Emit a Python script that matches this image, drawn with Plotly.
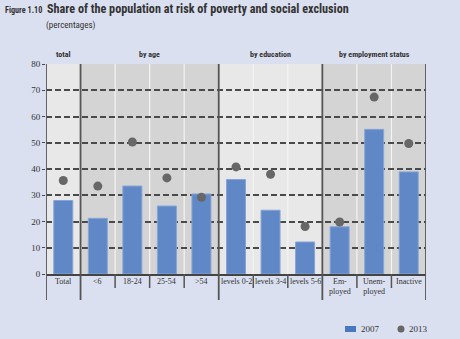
import plotly.graph_objects as go

categories = ["Total", "<6", "18-24", "25-54", ">54", "levels 0-2", "levels 3-4",
              "levels 5-6", "Em-<br>ployed", "Unem-<br>ployed", "Inactive"]
values_2007 = [28, 21.2, 33.5, 25.9, 30.5, 36, 24.3, 12.2, 18, 55.1, 38.9]
values_2013 = [35.6, 33.5, 50.3, 36.6, 29.2, 40.8, 38, 18.1, 19.8, 67.4, 49.7]
groups = ["total", "by age", "by education", "by employment status"]
group_sizes = [1, 4, 3, 3]
y_ticks = [0, 10, 20, 30, 40, 50, 60, 70, 80]
series_names = ["2007", "2013"]

BG = "#dae0f0"
LIGHT = "#e8e8e8"
DARK = "#d4d4d4"
BAR = "#6088c6"
DOT = "#676767"
TXT = "#333333"
COND = "Roboto Condensed, DejaVu Sans Condensed, sans-serif"
SERIF = "Liberation Serif, DejaVu Serif, serif"

L, R, T, B = 46, 426, 64, 274  # plot area in pixels


def px_x(p):
    return (p - L) / float(R - L)


def px_y(p):
    return (B - p) / float(B - T)


x = list(range(len(categories)))

fig = go.Figure()
fig.add_trace(go.Bar(x=x, y=values_2007, name=series_names[0], width=0.55,
                     marker=dict(color=BAR, line=dict(color="#86a5d6", width=1)),
                     showlegend=False))
fig.add_trace(go.Scatter(x=x, y=values_2013, mode="markers", name=series_names[1],
                         marker=dict(color=DOT, size=9), showlegend=False))

shapes = []
annotations = []
start = 0
shades = [LIGHT, DARK, LIGHT, DARK]
for gi, (g, n) in enumerate(zip(groups, group_sizes)):
    x0 = start - 0.5
    x1 = start + n - 0.5
    shapes.append(dict(type="rect", xref="x", yref="y", x0=x0, x1=x1, y0=0, y1=80,
                       fillcolor=shades[gi], line=dict(width=0), layer="below"))
    for k in range(1, n):
        xs = start + k - 0.5
        shapes.append(dict(type="line", xref="x", yref="y", x0=xs, x1=xs, y0=0, y1=80,
                           line=dict(color="#f4f4f4", width=1.2), layer="below"))
        shapes.append(dict(type="line", xref="x", yref="paper", x0=xs, x1=xs,
                           y0=px_y(288), y1=0,
                           line=dict(color="#555555", width=1.5), layer="above"))
    annotations.append(dict(x=(x0 + x1) / 2, y=px_y(55), xref="x", yref="paper",
                            text="<b>" + g + "</b>", showarrow=False,
                            font=dict(family=COND, size=8, color=TXT),
                            xanchor="center", yanchor="middle"))
    start += n

bounds = [-0.5]
s = 0
for n in group_sizes:
    s += n
    bounds.append(s - 0.5)
for b in bounds:
    shapes.append(dict(type="line", xref="x", yref="paper", x0=b, x1=b,
                       y0=px_y(300), y1=1,
                       line=dict(color="#555555", width=1.8), layer="above"))

for xi, c in zip(x, categories):
    annotations.append(dict(x=xi, y=px_y(275), xref="x", yref="paper", text=c,
                            showarrow=False,
                            font=dict(family=SERIF, size=8, color=TXT),
                            xanchor="center", yanchor="top"))

annotations.append(dict(x=px_x(3), y=px_y(10), xref="paper", yref="paper",
                        text="<b>Figure 1.10</b>", showarrow=False,
                        font=dict(family=COND, size=8.2, color=TXT),
                        xanchor="left", yanchor="middle"))
annotations.append(dict(x=px_x(45), y=px_y(9), xref="paper", yref="paper",
                        text="<b>Share of the population at risk of poverty and social exclusion</b>",
                        showarrow=False, font=dict(family=COND, size=12.2, color=TXT),
                        xanchor="left", yanchor="middle"))
annotations.append(dict(x=px_x(44), y=px_y(25), xref="paper", yref="paper",
                        text="(percentages)", showarrow=False,
                        font=dict(family=COND, size=9, color=TXT),
                        xanchor="left", yanchor="middle"))

# manual legend
annotations.append(dict(x=px_x(359), y=px_y(329), xref="paper", yref="paper",
                        text=series_names[0], showarrow=False,
                        font=dict(family=SERIF, size=9, color=TXT),
                        xanchor="left", yanchor="middle"))
annotations.append(dict(x=px_x(407), y=px_y(329), xref="paper", yref="paper",
                        text=series_names[1], showarrow=False,
                        font=dict(family=SERIF, size=9, color=TXT),
                        xanchor="left", yanchor="middle"))
shapes.append(dict(type="rect", xref="paper", yref="paper", x0=px_x(345), x1=px_x(356),
                   y0=px_y(332), y1=px_y(326), fillcolor="#4a78c0", line=dict(width=0)))
shapes.append(dict(type="circle", xref="paper", yref="paper", x0=px_x(397.5),
                   x1=px_x(404.5), y0=px_y(332.5), y1=px_y(325.5), fillcolor=DOT,
                   line=dict(width=0)))

fig.update_layout(
    width=460, height=339,
    margin=dict(l=L, r=460 - R, t=T, b=339 - B),
    paper_bgcolor=BG, plot_bgcolor=BG,
    xaxis=dict(range=[-0.5, 10.5], showticklabels=False, showgrid=False, zeroline=False,
               showline=True, linecolor="#444444", linewidth=1.5, ticks=""),
    yaxis=dict(range=[0, 80], tickvals=y_ticks, showgrid=True, griddash="6px,3px",
               gridcolor="#4a4a4a", gridwidth=1.5, zeroline=False, showline=False,
               ticks="outside", ticklen=3, tickcolor="#4a4a4a",
               tickfont=dict(family=SERIF, size=9, color=TXT)),
    shapes=shapes,
    annotations=annotations,
)

fig.write_html("out.html")
